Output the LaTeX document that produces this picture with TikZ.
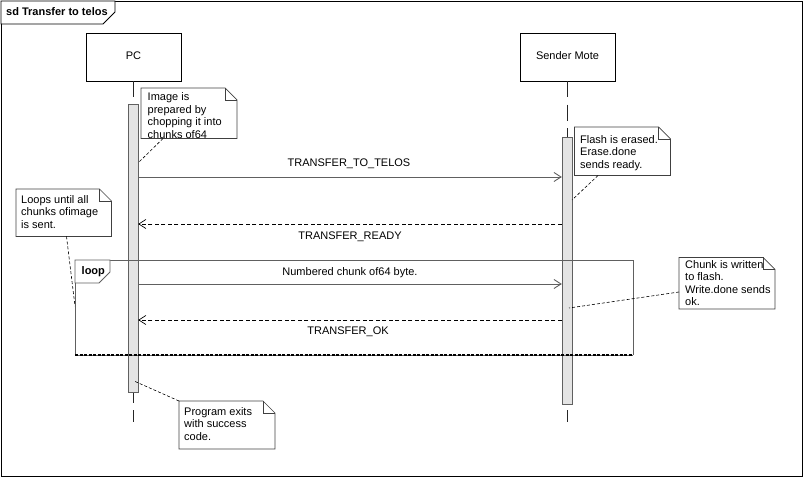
\documentclass[tikz,border=0pt]{standalone}
\usepackage{fontspec}
\setmainfont{Liberation Sans}
\usetikzlibrary{arrows.meta}
\definecolor{linegray}{HTML}{606060}
\definecolor{bargray}{HTML}{E4E4E4}
\newcommand\umlnote[4]{%
  \draw[notebox] (#1,#2) -- ({#3-12},#2) -- (#3,{#2+12}) -- (#3,#4) -- (#1,#4) -- cycle;
  \draw[notebox] ({#3-12},#2) -- ({#3-12},{#2+12}) -- (#3,{#2+12});
}
\begin{document}
\begin{tikzpicture}[x=1pt,y=-1pt,
  font=\fontsize{11}{12.5}\selectfont,
  lifebox/.style={draw=black, fill=white, minimum width=95pt, minimum height=48pt, inner sep=0pt},
  actbar/.style={draw=linegray, fill=bargray, minimum width=10pt, inner sep=0pt},
  msg/.style={draw=linegray, line width=0.9pt, -{Straight Barb[length=7pt,width=9pt]}},
  reply/.style={draw=black, line width=0.7pt, dash pattern=on 4pt off 2.5pt, -{Straight Barb[length=7pt,width=9pt]}},
  notebox/.style={draw=black!75, line width=0.7pt},
  notetext/.style={anchor=north west, align=left, inner sep=0pt},
  noteline/.style={draw=black, line width=0.6pt, dash pattern=on 3pt off 2pt},
  lifeline/.style={draw=black!85, line width=0.8pt, dash pattern=on 16pt off 7.5pt},
  lbl/.style={anchor=base, inner sep=0pt}
]
\useasboundingbox (0,0) rectangle (804,478);
% outer frame
\draw[black, line width=0.8pt] (1,1) rectangle (802,476.5);
\draw[black, line width=0.8pt, fill=white] (1,1) -- (115,1) -- (115,12) -- (103,24) -- (1,24) -- cycle;
\node[anchor=base west, inner sep=0pt, font=\fontsize{11}{12.5}\selectfont\bfseries] (title) at (6,16) {sd Transfer to telos};

% lifelines
\node[lifebox] (pc) at (133.5,57) {};
\node[lbl] (pct) at (133.5,60) {PC};
\node[lifebox] (sm) at (567.5,57) {};
\node[lbl] (smt) at (567.5,60) {Sender Mote};
\coordinate (pcend) at (133.5,422);
\coordinate (smend) at (567.5,422);
\draw[lifeline] (pc.south) -- (pcend);
\draw[lifeline] (sm.south) -- (smend);

% activation bars
\node[actbar, minimum height=288pt] (pcbar) at (133,248) {};
\node[actbar, minimum height=267pt] (smbar) at (567,270.5) {};

% loop fragment
\draw[draw=linegray, line width=0.8pt] (75,355) -- (75,260) -- (633,260) -- (633,355);
\draw[draw=linegray, line width=0.8pt] (75,355) -- (633,355);
\draw[draw=black, line width=1.1pt, dash pattern=on 3pt off 1.5pt] (75,355) -- (633,355);
\draw[draw=linegray, line width=0.8pt, fill=white] (75,260) -- (110,260) -- (110,272) -- (99,283) -- (75,283) -- cycle;
\node[anchor=base west, inner sep=0pt, font=\fontsize{11}{12.5}\selectfont\bfseries] (looptag) at (81.5,275) {loop};

% messages
\draw[msg] (pcbar.east |- 0,177) -- (smbar.west |- 0,177);
\node[lbl] (m1) at (349,167) {TRANSFER\_TO\_TELOS};
\draw[reply] (smbar.west |- 0,224) -- (pcbar.east |- 0,224);
\node[lbl] (m2) at (350,240) {TRANSFER\_READY};
\draw[msg] (pcbar.east |- 0,284) -- (smbar.west |- 0,284);
\node[lbl] (m3) at (350,276) {Numbered chunk of64 byte.};
\draw[reply] (smbar.west |- 0,320) -- (pcbar.east |- 0,320);
\node[lbl] (m4) at (348,335) {TRANSFER\_OK};

% notes
\umlnote{141}{88}{237}{138.5}
\node[notetext] (n1) at (147.5,92.5) {Image is\\prepared by\\chopping it into\\chunks of64};
\coordinate (n1a) at (163,138.5);
\coordinate (n1b) at (138,163);
\draw[noteline] (n1a) -- (n1b);

\umlnote{574.5}{127}{670.5}{175.5}
\node[notetext] (n2) at (580,135) {Flash is erased.\\Erase.done\\sends ready.};
\coordinate (n2a) at (598,175.5);
\coordinate (n2b) at (572,200);
\draw[noteline] (n2a) -- (n2b);

\umlnote{16}{189}{111.5}{236.5}
\node[notetext] (n3) at (21,195) {Loops until all\\chunks ofimage\\is sent.};
\coordinate (n3a) at (66.5,236.5);
\coordinate (n3b) at (75,306);
\draw[noteline] (n3a) -- (n3b);

\umlnote{679}{257.5}{775}{309}
\node[notetext] (n4) at (685,260) {Chunk is written\\to flash.\\Write.done sends\\ok.};
\coordinate (n4a) at (679,292);
\coordinate (n4b) at (569,308);
\draw[noteline] (n4a) -- (n4b);

\umlnote{179}{401}{275}{449}
\node[notetext] (n5) at (184,407) {Program exits\\with success\\code.};
\coordinate (n5a) at (179,401);
\coordinate (n5b) at (134,381);
\draw[noteline] (n5a) -- (n5b);
\end{tikzpicture}
\end{document}
